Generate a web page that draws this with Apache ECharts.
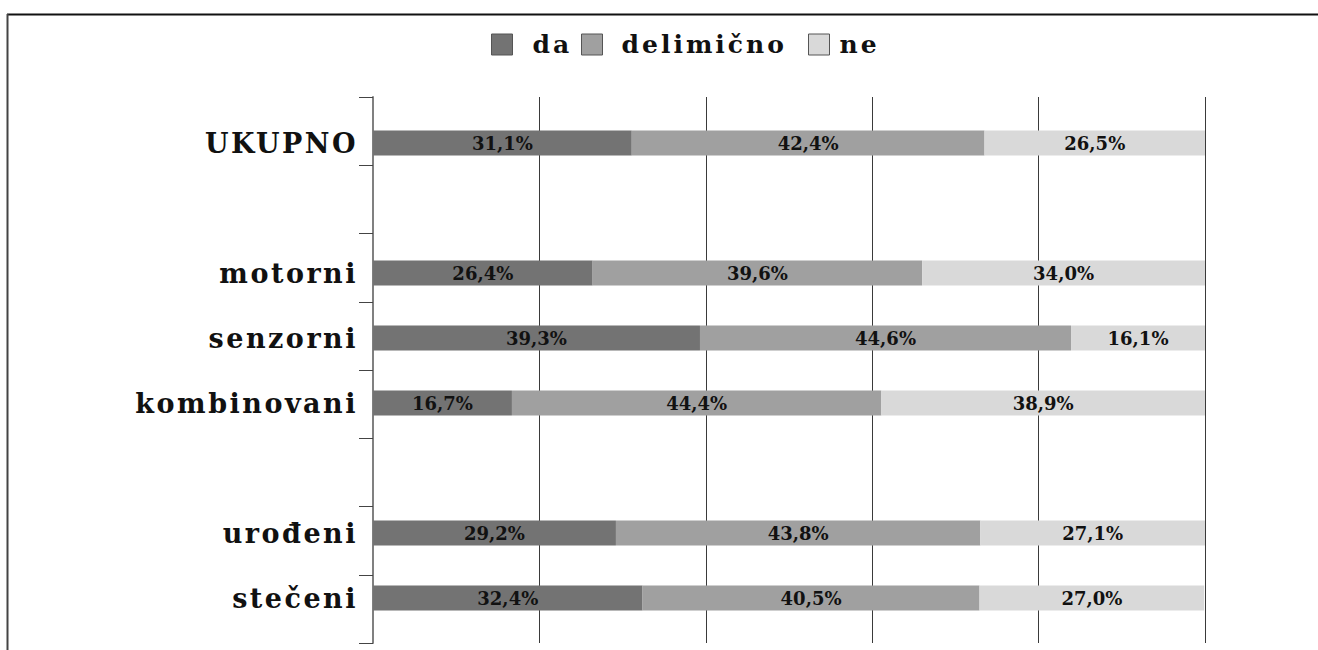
<!DOCTYPE html>
<html>
<head>
<meta charset="utf-8">
<script src="https://cdn.jsdelivr.net/npm/echarts@6/dist/echarts.min.js"></script>
<style>
  html, body { margin: 0; padding: 0; background: #fff; }
  #chart { width: 1318px; height: 650px; }
  /* wide letter spacing for the category names (27px) and legend entries (25px) */
  #chart text[style*="27px"] { letter-spacing: 2.5px; }
  #chart text[style*="25px"] { letter-spacing: 3px; }
</style>
</head>
<body>
<div id="chart"></div>
<script>
// Categories from top to bottom; the empty entries are spacer rows between groups
const categories = ['UKUPNO', '', 'motorni', 'senzorni', 'kombinovani', ' ', 'urođeni', 'stečeni'];
const seriesNames = ['da', 'delimično', 'ne'];
const daValues        = [31.1, null, 26.4, 39.3, 16.7, null, 29.2, 32.4];
const delimicnoValues = [42.4, null, 39.6, 44.6, 44.4, null, 43.8, 40.5];
const neValues        = [26.5, null, 34.0, 16.1, 38.9, null, 27.1, 27.0];
const percentTicks = [0, 20, 40, 60, 80, 100];

const colors = ['#737373', '#a0a0a0', '#d9d9d9'];
const serifFont = '"DejaVu Serif", "Liberation Serif", serif';

const fmtPct = v => v.toFixed(1).replace('.', ',') + '%';

function barSeries(name, values, color) {
  return {
    name: name,
    type: 'bar',
    stack: 'total',
    xAxisIndex: 1,
    yAxisIndex: 1,
    barWidth: 25,
    data: values,
    itemStyle: { color: color },
    label: {
      show: true,
      position: 'inside',
      formatter: p => (p.value == null ? '' : fmtPct(p.value)),
      color: '#111',
      fontFamily: serifFont,
      fontWeight: 'bold',
      fontSize: 18
    },
    emphasis: { disabled: true }
  };
}

function legendEntry(name, left, gap) {
  return {
    data: [name],
    left: left,
    top: 32,
    padding: 0,
    orient: 'horizontal',
    icon: 'rect',
    itemWidth: 21,
    itemHeight: 21,
    selectedMode: false,
    itemStyle: { borderColor: '#555', borderWidth: 1 },
    textStyle: {
      fontFamily: serifFont,
      fontWeight: 'bold',
      fontSize: 25,
      color: '#111',
      padding: [0, 0, 0, gap]
    }
  };
}

const chart = echarts.init(document.getElementById('chart'), null, { renderer: 'svg' });

chart.setOption({
  backgroundColor: '#fff',
  animation: false,
  legend: [
    legendEntry(seriesNames[0], 491, 15),
    legendEntry(seriesNames[1], 581, 14),
    legendEntry(seriesNames[2], 808, 5)
  ],
  graphic: [
    // frame lines along the top and left edge
    { type: 'line', shape: { x1: 7, y1: 14.5, x2: 1318, y2: 14.5 }, style: { stroke: '#111', lineWidth: 2 } },
    { type: 'line', shape: { x1: 7.5, y1: 14, x2: 7.5, y2: 650 }, style: { stroke: '#444', lineWidth: 2 } }
  ],
  grid: [
    // grid 0: axis line, category ticks and vertical gridlines
    { left: 373, top: 97, width: 832, height: 546, containLabel: false },
    // grid 1: stacked bars and category names
    { left: 373, top: 110.5, width: 832, height: 520, containLabel: false }
  ],
  xAxis: [
    {
      gridIndex: 0,
      type: 'value',
      min: percentTicks[0],
      max: percentTicks[percentTicks.length - 1],
      interval: percentTicks[1] - percentTicks[0],
      axisLine: { show: false },
      axisTick: { show: false },
      axisLabel: { show: false },
      splitLine: { show: true, lineStyle: { color: '#3a3a3a', width: 1 } }
    },
    {
      gridIndex: 1,
      type: 'value',
      min: 0,
      max: 100,
      show: false
    }
  ],
  yAxis: [
    {
      gridIndex: 0,
      type: 'category',
      inverse: true,
      data: categories,
      axisLine: { show: true, lineStyle: { color: '#808080', width: 2 } },
      axisTick: { show: true, length: 14, lineStyle: { color: '#444', width: 1 } },
      axisLabel: { show: false },
      splitLine: { show: false }
    },
    {
      gridIndex: 1,
      type: 'category',
      inverse: true,
      data: categories,
      axisLine: { show: false },
      axisTick: { show: false },
      splitLine: { show: false },
      axisLabel: {
        show: true,
        margin: 15,
        color: '#111',
        fontFamily: serifFont,
        fontWeight: 'bold',
        fontSize: 27
      }
    }
  ],
  series: [
    barSeries(seriesNames[0], daValues, colors[0]),
    barSeries(seriesNames[1], delimicnoValues, colors[1]),
    barSeries(seriesNames[2], neValues, colors[2])
  ]
});
</script>
</body>
</html>
